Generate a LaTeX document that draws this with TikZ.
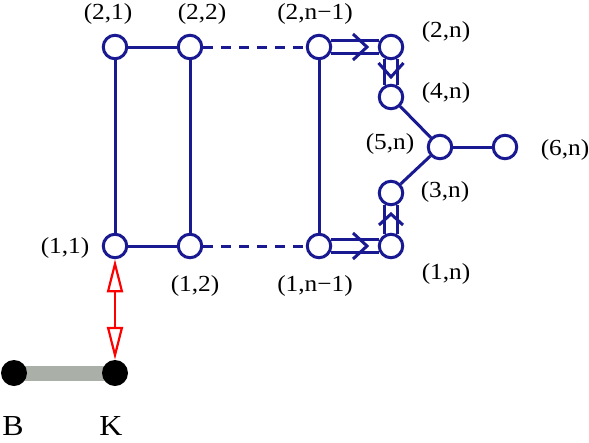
\documentclass[tikz,border=0pt]{standalone}
\usepackage{fontspec}
\setmainfont{Liberation Serif}
\newfontfamily\lblfont[FakeStretch=1.1]{Liberation Serif}
\usetikzlibrary{arrows.meta,calc,backgrounds}
\definecolor{nb}{RGB}{25,25,145}
\definecolor{barg}{RGB}{170,175,168}
\begin{document}
\begin{tikzpicture}[x=1pt,y=-1pt,
  vtx/.style={circle,draw=nb,line width=3pt,fill=white,minimum size=23.5pt,inner sep=0pt},
  bk/.style={circle,fill=black,minimum size=26pt,inner sep=0pt},
  edge/.style={draw=nb,line width=3pt},
  dsh/.style={edge,dash pattern=on 10pt off 8pt},
  chev/.style={draw=nb,line width=3pt},
  lbl/.style={inner sep=0pt,font=\lblfont\fontsize{23}{27}\selectfont},
  big/.style={inner sep=0pt,font=\lblfont\fontsize{29}{34}\selectfont},
  redarr/.style={draw=red,line width=2.2pt,{Triangle[open,length=33pt,width=16pt]}-{Triangle[open,length=33pt,width=16pt]}}]
\useasboundingbox (0,0) rectangle (589,442);

% vertices
\node[vtx] (a21) at (115,47) {};
\node[vtx] (a22) at (190,47) {};
\node[vtx] (a2m) at (319,47) {};
\node[vtx] (a2n) at (391,47) {};
\node[vtx] (a4n) at (391,97) {};
\node[vtx] (a5n) at (440,147) {};
\node[vtx] (a6n) at (505,147) {};
\node[vtx] (a3n) at (391,193) {};
\node[vtx] (a1n) at (391,246) {};
\node[vtx] (a1m) at (319,246) {};
\node[vtx] (a12) at (190,246) {};
\node[vtx] (a11) at (115,246) {};

\node[bk] (B) at (14,373) {};
\node[bk] (K) at (115,373) {};

% labels
\node[lbl] (l21) at (108,14) {(2,1)};
\node[lbl] (l22) at (202,14) {(2,2)};
\node[lbl] (l2m) at (315,14) {(2,n−1)};
\node[lbl] (l2n) at (446,32) {(2,n)};
\node[lbl] (l4n) at (446,93) {(4,n)};
\node[lbl] (l5n) at (390,144) {(5,n)};
\node[lbl] (l6n) at (565,150) {(6,n)};
\node[lbl] (l3n) at (445,192) {(3,n)};
\node[lbl] (l1n) at (446,274) {(1,n)};
\node[lbl] (l1m) at (315,286) {(1,n−1)};
\node[lbl] (l12) at (195,286) {(1,2)};
\node[lbl] (l11) at (65,248) {(1,1)};
\node[big] (lB) at (13,426) {B};
\node[big] (lK) at (111,426) {K};

% single edges
\draw[edge] (a21) -- (a22);
\draw[edge] (a11) -- (a12);
\draw[edge] (a21) -- (a11);
\draw[edge] (a22) -- (a12);
\draw[edge] (a2m) -- (a1m);
\draw[edge] (a4n) -- (a5n);
\draw[edge] (a3n) -- (a5n);
\draw[edge] (a5n) -- (a6n);
\draw[dsh] (a22) -- (a2m);
\draw[dsh] (a12) -- (a1m);

% double edges
\draw[edge] (a2m.29) -- (a2n.151);
\draw[edge] (a2m.-29) -- (a2n.-151);
\draw[edge] (a2n.-61) -- (a4n.61);
\draw[edge] (a2n.-119) -- (a4n.119);
\draw[edge] (a1m.29) -- (a1n.151);
\draw[edge] (a1m.-29) -- (a1n.-151);
\draw[edge] (a1n.61) -- (a3n.-61);
\draw[edge] (a1n.119) -- (a3n.-119);

% chevrons
\coordinate (m1) at ($(a2m)!0.5!(a2n)$);
\coordinate (m2) at ($(a2n)!0.5!(a4n)$);
\coordinate (m3) at ($(a1m)!0.5!(a1n)$);
\coordinate (m4) at ($(a1n)!0.5!(a3n)$);
\draw[chev] ($(m1)+(-2,-13)$) -- ($(m1)+(12,0)$) -- ($(m1)+(-2,13)$);
\draw[chev] ($(m3)+(-2,-13)$) -- ($(m3)+(12,0)$) -- ($(m3)+(-2,13)$);
\draw[chev] ($(m2)+(-12.5,-9)$) -- ($(m2)+(0,5)$) -- ($(m2)+(12.5,-9)$);
\draw[chev] ($(m4)+(-12,5.5)$) -- ($(m4)+(0,-5.5)$) -- ($(m4)+(12,5.5)$);

% bar and red arrow
\begin{scope}[on background layer]
\draw[barg,line width=15pt] (B.center) -- (K.center);
\end{scope}
\draw[redarr] (a11.south) -- (K.north);
\end{tikzpicture}
\end{document}
